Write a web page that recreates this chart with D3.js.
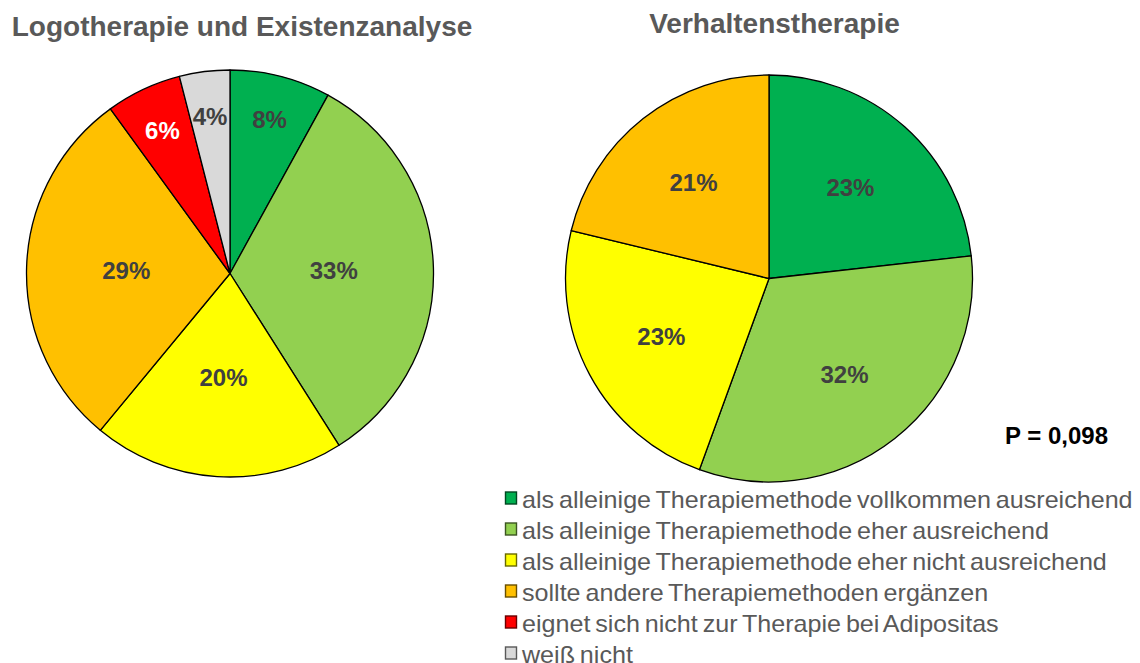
<!DOCTYPE html>
<html>
<head>
<meta charset="utf-8">
<script src="https://cdn.jsdelivr.net/npm/d3@7"></script>
<style>
  body { margin: 0; background: #fff; }
  svg { display: block; font-family: "Liberation Sans", Arial, sans-serif; }
</style>
</head>
<body>
<div id="chart"></div>
<script>
const w = 1140; //Width
const h = 663; //Height

// categories and colours (same order in both pies)
const categories = [
  "als alleinige Therapiemethode vollkommen ausreichend",
  "als alleinige Therapiemethode eher ausreichend",
  "als alleinige Therapiemethode eher nicht ausreichend",
  "sollte andere Therapiemethoden ergänzen",
  "eignet sich nicht zur Therapie bei Adipositas",
  "weiß nicht"
];
const colors = ["#00B050", "#92D050", "#FFFF00", "#FFC000", "#FF0000", "#D9D9D9"];

// percentages
const logoValues = [8, 33, 20, 29, 6, 4];
const verhValues = [23, 32, 23, 21, 0, 0];

const titles = ["Logotherapie und Existenzanalyse", "Verhaltenstherapie"];
const pText = "P = 0,098";

const svg = d3.select("#chart")
              .append("svg")
              .attr("width", w)
              .attr("height", h);

const radius = 203.5;

const pie = d3.pie()
              .sort(null)
              .value(d => d.value);

const arc = d3.arc()
              .innerRadius(0)
              .outerRadius(radius);

const drawPie = (values, cx, cy, title, titleX, titleY, labelR) => {
  const data = values.map((v, i) => ({value: v, color: colors[i], idx: i}))
                     .filter(d => d.value > 0);

  svg.append("text")
    .attr("x", titleX)
    .attr("y", titleY)
    .attr("text-anchor", "middle")
    .attr("font-size", 28)
    .attr("font-weight", "bold")
    .attr("fill", "#595959")
    .text(title);

  const g = svg.append("g")
               .attr("transform", "translate(" + cx + "," + cy + ")");

  const arcs = pie(data);

  g.selectAll("path")
    .data(arcs)
    .enter()
    .append("path")
    .attr("d", arc)
    .attr("fill", d => d.data.color)
    .attr("stroke", "#000")
    .attr("stroke-width", 1.3)
    .attr("stroke-linejoin", "round");

  g.selectAll("text")
    .data(arcs)
    .enter()
    .append("text")
    .attr("transform", d => {
      const r = labelR(d.data.value) * radius;
      const a = (d.startAngle + d.endAngle) / 2;
      return "translate(" + (Math.sin(a) * r) + "," + (-Math.cos(a) * r) + ")";
    })
    .attr("text-anchor", "middle")
    .attr("dy", "0.36em")
    .attr("font-size", 24)
    .attr("font-weight", "bold")
    .attr("fill", d => d.data.idx === 4 ? "#fff" : "#404040")
    .text(d => d.data.value + "%");
};

drawPie(logoValues, 230, 273.5, titles[0], 242, 36, v => v < 10 ? 0.78 : 0.51);
drawPie(verhValues, 769, 278.5, titles[1], 774.5, 33, v => 0.6);

// P value
svg.append("text")
  .attr("x", 1005)
  .attr("y", 444)
  .attr("font-size", 24)
  .attr("font-weight", "bold")
  .attr("fill", "#000")
  .text(pText);

// legend
const legend = svg.append("g")
                  .attr("class", "legend");

const rows = legend.selectAll("g")
                   .data(categories)
                   .enter()
                   .append("g")
                   .attr("transform", (d, i) => "translate(505," + (498 + i * 31) + ")");

rows.append("rect")
  .attr("x", 0.5)
  .attr("y", -6)
  .attr("width", 11)
  .attr("height", 12)
  .attr("fill", (d, i) => colors[i])
  .attr("stroke", (d, i) => d3.color(colors[i]).darker(2.5))
  .attr("stroke-width", 1.4);

const labels = rows.append("text")
                   .attr("x", 17)
                   .attr("y", 9.5)
                   .attr("font-size", 24)
                   .attr("word-spacing", -2)
                   .attr("fill", "#595959")
                   .text(d => d);

// squeeze/stretch to the width seen in the picture
const firstW = labels.node().getComputedTextLength();
const sx = 611 / firstW;
labels.attr("transform", "translate(17,0) scale(" + sx + ",1) translate(-17,0)");
</script>
</body>
</html>
